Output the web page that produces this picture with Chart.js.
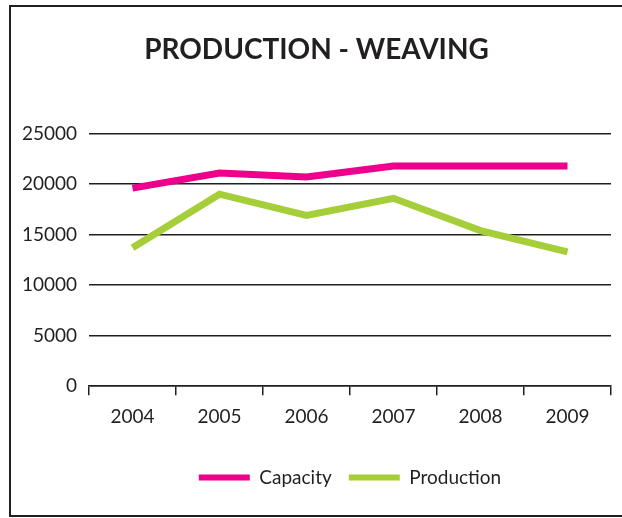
<!DOCTYPE html>
<html>
<head>
<meta charset="utf-8">
<script src="https://cdn.jsdelivr.net/npm/chart.js@4"></script>
<style>
    body { margin: 0; background: #fff; }
    #wrap { position: relative; width: 622px; height: 518px; overflow: hidden; }
    #frame { position: absolute; left: 9px; top: 5px; width: 640px; height: 508px;
             border: 2px solid #231f20; border-right: none; }
    #chart { position: absolute; left: 0; top: 0; }
</style>
</head>
<body>
<div id="wrap">
    <div id="frame"></div>
    <canvas id="chart" width="622" height="518"></canvas>
</div>
<script>
let years = ['2004', '2005', '2006', '2007', '2008', '2009'];
let capacityValues = [19600, 21100, 20700, 21800, 21800, 21800];
let productionValues = [13700, 19000, 16900, 18600, 15400, 13300];
let yTicks = [0, 5000, 10000, 15000, 20000, 25000];

let ink = '#231f20';
let fontName = 'Lato';

// in the original the title sits a little left of centre and the legend
// is centred under the plot area, so nudge both boxes after layout
let boxShift = {
    id: 'boxShift',
    afterLayout: function(chart) {
        if (chart.titleBlock) chart.titleBlock.left = 22;
        if (chart.legend) chart.legend.left = chart.chartArea.left;
    }
};

var ctx = document.getElementById('chart');
var myLineChart = new Chart(ctx, {
    type: 'line',
    data: {
        labels: years,
        datasets: [{
            label: 'Capacity',
            data: capacityValues,
            borderColor: '#ec008c',
            backgroundColor: '#ec008c'
        }, {
            label: 'Production',
            data: productionValues,
            borderColor: '#a6ce39',
            backgroundColor: '#a6ce39'
        }]
    },
    plugins: [boxShift],
    options: {
        responsive: false,
        animation: false,
        layout: { padding: { top: 0, right: 11, bottom: 21, left: 0 } },
        elements: {
            line: { borderWidth: 7, tension: 0, borderCapStyle: 'butt', borderJoinStyle: 'miter' },
            point: { radius: 0 }
        },
        plugins: {
            tooltip: { enabled: false },
            title: {
                display: true,
                text: 'PRODUCTION - WEAVING',
                color: ink,
                font: { family: fontName, size: 28, weight: 'bold', lineHeight: 1.2 },
                padding: { top: 33, bottom: 67 }
            },
            legend: {
                position: 'bottom',
                labels: {
                    color: ink,
                    font: { family: fontName, size: 19 },
                    boxWidth: 51,
                    boxHeight: 6,
                    padding: 17,
                    generateLabels: function(chart) {
                        let items = Chart.defaults.plugins.legend.labels.generateLabels(chart);
                        items.forEach(function(item) { item.lineWidth = 0; });
                        return items;
                    }
                }
            }
        },
        scales: {
            x: {
                offset: true,
                afterFit: function(scale) { scale.height += 13; },
                grid: {
                    offset: true,
                    drawOnChartArea: false,
                    drawTicks: true,
                    tickLength: 9,
                    color: ink,
                    lineWidth: 1.5
                },
                border: { display: true, color: ink, width: 1.5 },
                ticks: { color: ink, font: { family: fontName, size: 19 }, padding: 10, maxRotation: 0 }
            },
            y: {
                min: 0,
                max: 25000,
                afterBuildTicks: function(scale) {
                    scale.ticks = yTicks.map(function(v) { return { value: v }; });
                },
                afterFit: function(scale) { scale.width = 89; },
                grid: { drawTicks: false, color: ink, lineWidth: 1.5 },
                border: { display: false },
                ticks: {
                    color: ink,
                    font: { family: fontName, size: 19 },
                    padding: 12,
                    callback: function(value) { return String(value); }
                }
            }
        }
    }
});
</script>
</body>
</html>
